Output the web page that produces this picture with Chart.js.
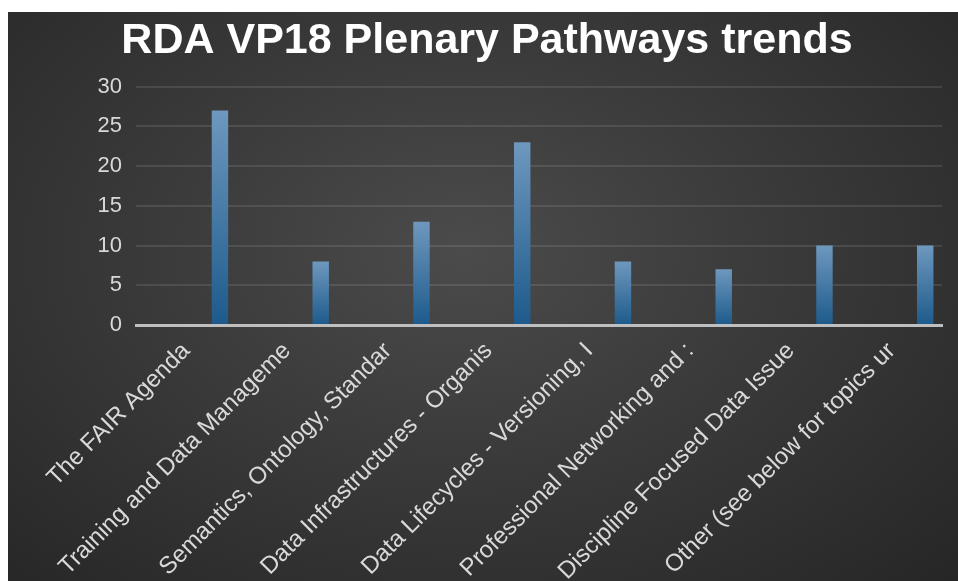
<!DOCTYPE html>
<html>
<head>
<meta charset="utf-8">
<script src="https://cdn.jsdelivr.net/npm/chart.js@4.4.1/dist/chart.umd.min.js"></script>
<style>
    html, body {
        margin: 0;
        padding: 0;
        background: #ffffff;
        overflow: hidden;
    }
    .chart-box {
        position: absolute;
        left: 8px;
        top: 12px;
        width: 950px;
        height: 569px;
        overflow: hidden;
        background: radial-gradient(ellipse at 48% 42%, #4b4b4b 0%, #3a3a3a 45%, #262626 100%);
    }
</style>
</head>
<body>
<div class="chart-box">
    <canvas id="pathwaysChart" width="950" height="569"></canvas>
</div>
<script>
// 图表数据
var categories = [
    'The FAIR Agenda',
    'Training and Data Manageme',
    'Semantics, Ontology, Standar',
    'Data Infrastructures - Organis',
    'Data Lifecycles - Versioning, I',
    'Professional Networking and :',
    'Discipline Focused Data Issue',
    'Other (see below for topics ur'
];
var pathwayCounts = [27, 8, 13, 23, 8, 7, 10, 10];
// Excel 里前两个系列是空的，所以柱子落在每个类别的右边
var emptySeriesA = [];
var emptySeriesB = [];
var yTicks = [0, 5, 10, 15, 20, 25, 30];

var tickColor = '#d9d9d9';
var fontFamily = 'Liberation Sans, Arial, sans-serif';

document.addEventListener('DOMContentLoaded', function() {
    initPathwaysChart();
});

/**
 * 每根柱子自上而下的渐变
 */
function barGradient(context) {
    var chart = context.chart;
    var yScale = chart.scales.y;
    if (!yScale || context.parsed == null) return '#3f78a8';
    var top = yScale.getPixelForValue(context.parsed.y);
    var base = yScale.getPixelForValue(0);
    if (!isFinite(top) || top === base) return '#3f78a8';
    var g = chart.ctx.createLinearGradient(0, top, 0, base);
    g.addColorStop(0, '#6e98be');
    g.addColorStop(1, '#1d5a8b');
    return g;
}

function initPathwaysChart() {
    var ctx = document.getElementById('pathwaysChart');
    if (!ctx) return;

    new Chart(ctx, {
        type: 'bar',
        data: {
            labels: categories,
            datasets: [{
                label: 'A',
                data: emptySeriesA
            }, {
                label: 'B',
                data: emptySeriesB
            }, {
                label: 'Count',
                data: pathwayCounts,
                backgroundColor: barGradient,
                borderWidth: 0
            }]
        },
        options: {
            responsive: false,
            animation: false,
            categoryPercentage: 1.0,
            barPercentage: 0.49,
            layout: {
                padding: { left: 24, right: 16, top: 0, bottom: 0 }
            },
            plugins: {
                legend: { display: false },
                tooltip: { enabled: false },
                title: {
                    display: true,
                    text: 'RDA VP18 Plenary Pathways trends',
                    color: '#ffffff',
                    font: { family: fontFamily, size: 43, weight: 'bold' },
                    padding: { top: 3, bottom: 20 }
                }
            },
            scales: {
                y: {
                    min: 0,
                    max: 30,
                    afterBuildTicks: function(scale) {
                        scale.ticks = yTicks.map(function(v) { return { value: v }; });
                    },
                    afterFit: function(scale) {
                        scale.width = 104;
                    },
                    ticks: {
                        color: tickColor,
                        font: { family: fontFamily, size: 22 },
                        padding: 14
                    },
                    border: { display: false },
                    grid: {
                        color: function(c) {
                            return c.tick && c.tick.value === 0 ? 'rgba(0,0,0,0)' : 'rgba(255, 255, 255, 0.1)';
                        },
                        lineWidth: 2,
                        drawTicks: false
                    }
                },
                x: {
                    afterFit: function(scale) {
                        scale.height = 256;
                    },
                    ticks: {
                        color: tickColor,
                        font: { family: fontFamily, size: 24 },
                        minRotation: 45,
                        maxRotation: 45,
                        autoSkip: false,
                        padding: 12
                    },
                    border: {
                        display: true,
                        color: '#bfbfbf',
                        width: 3
                    },
                    grid: {
                        display: false,
                        drawTicks: false
                    }
                }
            }
        }
    });
}
</script>
</body>
</html>
